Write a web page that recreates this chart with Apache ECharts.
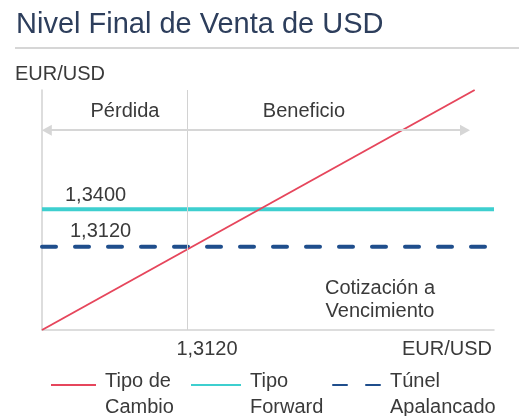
<!DOCTYPE html>
<html>
<head>
    <meta charset="utf-8">
    <title>Nivel Final de Venta de USD</title>
    <script src="https://cdn.jsdelivr.net/npm/echarts@6/dist/echarts.min.js"></script>
    <style>
        html, body { margin: 0; padding: 0; background: #fff; }
        #main { width: 519px; height: 416px; }
    </style>
</head>
<body>
    <div id="main"></div>
    <script type="text/javascript">
    // datos
    var seriesNames = ['Tipo de\nCambio', 'Tipo\nForward', 'Túnel\nApalancado'];
    var spotX = [1.25, 1.429];      // tipo de cambio (y = x)
    var spotY = [1.25, 1.429];
    var forwardX = [1.25, 1.437];
    var forwardY = [1.34, 1.34];
    var tunnelX = [1.25, 1.435];
    var tunnelY = [1.312, 1.312];
    var strike = 1.312;
    var arrowX = [1.252, 1.425];
    var arrowY = 1.399;
    var xLabels = ['1,3120', 'EUR/USD'];
    var levelLabels = ['1,3400', '1,3120'];

    function pairs(xs, ys) {
        return xs.map(function (x, i) { return [x, ys[i]]; });
    }

    var font = 'Liberation Sans';
    var txt = '#3a3a3a';

    function label(text, x, y, align) {
        return {
            type: 'text', x: x, y: y, silent: true,
            style: {
                text: text, fill: txt, fontSize: 20, fontFamily: font,
                align: align || 'left', verticalAlign: 'middle', lineHeight: 23
            }
        };
    }

    // leyenda: el icono queda a la altura de la primera línea del texto
    function legendAt(name, left, w) {
        return {
            data: [name], left: left, top: 354, padding: 0,
            itemWidth: w, itemHeight: 14, selectedMode: false,
            itemStyle: { opacity: 0 },
            formatter: function (n) {
                return '{s| }\n' + n.split('\n').map(function (l) { return '{a|' + l + '}'; }).join('\n');
            },
            textStyle: {
                padding: [0, 0, 0, 4],
                rich: {
                    s: { fontSize: 10, lineHeight: 18 },
                    a: { fontSize: 20, fontFamily: font, color: txt, lineHeight: 26 }
                }
            }
        };
    }

    var myChart = echarts.init(document.getElementById('main'));
    myChart.setOption({
        animation: false,
        title: {
            text: 'Nivel Final de Venta de USD',
            left: 11, top: 5,
            textStyle: { fontSize: 29, fontWeight: 'normal', fontFamily: font, color: '#2d3e5c' }
        },
        grid: { left: 42, right: 25, top: 90, bottom: 86 },
        xAxis: {
            type: 'value', min: 1.25, max: 1.437,
            axisLine: { show: true, lineStyle: { color: '#d2d2d2', width: 1.5 } },
            axisTick: { show: false }, axisLabel: { show: false }, splitLine: { show: false }
        },
        yAxis: {
            type: 'value', min: 1.25, max: 1.429,
            axisLine: { show: true, lineStyle: { color: '#d2d2d2', width: 1.5 } },
            axisTick: { show: false }, axisLabel: { show: false }, splitLine: { show: false }
        },
        legend: [
            legendAt(seriesNames[0], 50, 45),
            legendAt(seriesNames[1], 190, 50),
            legendAt(seriesNames[2], 332, 48)
        ],
        graphic: [
            { type: 'line', shape: { x1: 15, y1: 48, x2: 519, y2: 48 }, style: { stroke: '#d6d6d6', lineWidth: 2 } },
            label('EUR/USD', 15, 74),
            label('Pérdida', 125, 111, 'center'),
            label('Beneficio', 304, 111, 'center'),
            label(levelLabels[0], 65, 195),
            label(levelLabels[1], 70, 231),
            label('Cotización a\nVencimiento', 380, 300, 'center'),
            label(xLabels[0], 207, 349, 'center'),
            label(xLabels[1], 492, 349, 'right')
        ],
        series: [
            {
                name: 'guias', type: 'line', data: [], silent: true,
                markLine: {
                    silent: true, symbol: 'none', label: { show: false },
                    lineStyle: { color: '#d2d2d2', width: 1, type: 'solid' },
                    data: [
                        { xAxis: strike },
                        [
                            { coord: [arrowX[0], arrowY], symbol: 'triangle', symbolSize: [11, 10] },
                            { coord: [arrowX[1], arrowY], symbol: 'triangle', symbolSize: [11, 10],
                              lineStyle: { color: '#d6d6d6', width: 2 } }
                        ]
                    ]
                }
            },
            {
                name: seriesNames[1], type: 'line', symbol: 'none',
                data: pairs(forwardX, forwardY),
                lineStyle: { color: '#3ecfcf', width: 4 },
                itemStyle: { color: '#3ecfcf' }
            },
            {
                name: seriesNames[2], type: 'line', symbol: 'none',
                data: pairs(tunnelX, tunnelY),
                lineStyle: { color: '#1f4e8c', width: 4, type: [14, 19], cap: 'round' },
                itemStyle: { color: '#1f4e8c' }
            },
            {
                name: seriesNames[0], type: 'line', symbol: 'none',
                data: pairs(spotX, spotY),
                lineStyle: { color: '#e6465c', width: 2 },
                itemStyle: { color: '#e6465c' }
            }
        ]
    });
    </script>
</body>
</html>
